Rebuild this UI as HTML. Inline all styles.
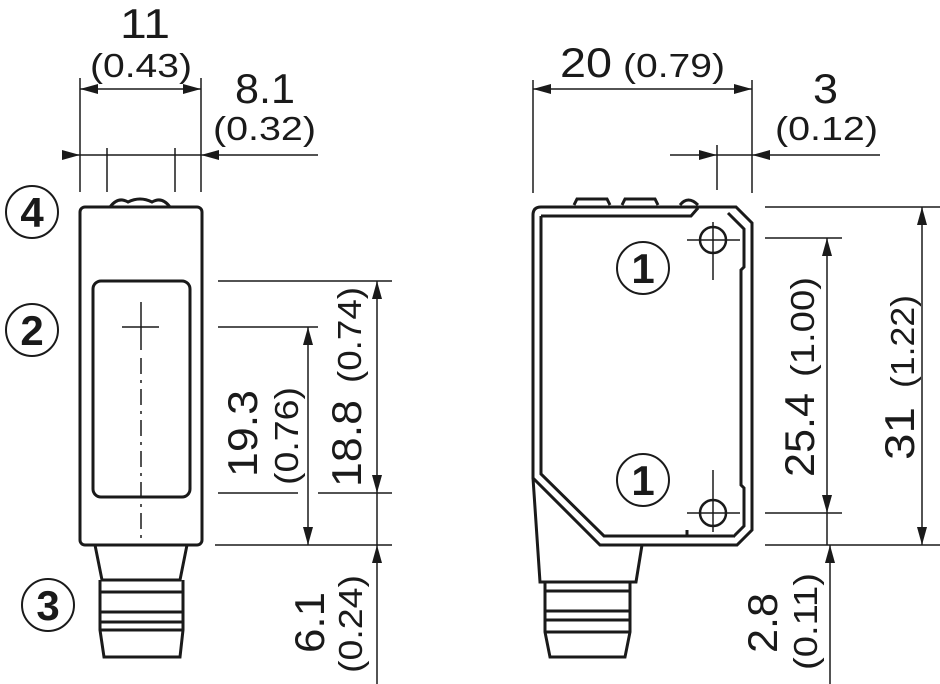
<!DOCTYPE html>
<html><head><meta charset="utf-8"><style>
html,body{margin:0;padding:0;background:#fff}
svg{display:block}
text{font-family:"Liberation Sans",sans-serif;fill:#1a1a1a}
.b{font-size:42px}.s{font-size:33px}
.c{font-weight:bold}
</style></head><body>
<svg width="940" height="684" viewBox="0 0 940 684" xmlns="http://www.w3.org/2000/svg">
<defs>
<marker id="a" markerWidth="18" markerHeight="10" refX="18" refY="5" orient="auto-start-reverse" markerUnits="userSpaceOnUse"><path d="M0,0 L18,5 L0,10z" fill="#1a1a1a"/></marker>
</defs>
<g stroke="#1a1a1a" fill="none">
<!-- LEFT VIEW -->
<g stroke-width="1.5">
<line x1="80" y1="78" x2="80" y2="192"/><line x1="201" y1="78" x2="201" y2="192"/>
<line x1="107" y1="148" x2="107" y2="192"/><line x1="175" y1="148" x2="175" y2="192"/>
<line x1="80" y1="89" x2="201" y2="89" marker-end="url(#a)" marker-start="url(#a)"/>
<line x1="62" y1="155" x2="80" y2="155" marker-end="url(#a)"/><line x1="80" y1="155" x2="201" y2="155"/>
<line x1="318" y1="155" x2="201" y2="155" marker-end="url(#a)"/>
<line x1="218" y1="281" x2="392" y2="281"/><line x1="218" y1="327" x2="318" y2="327"/>
<line x1="218" y1="493" x2="298" y2="493"/><line x1="318" y1="493" x2="392" y2="493"/>
<line x1="215" y1="545" x2="392" y2="545"/>
<line x1="308" y1="327" x2="308" y2="545" marker-start="url(#a)" marker-end="url(#a)"/>
<line x1="377" y1="281" x2="377" y2="493" marker-start="url(#a)" marker-end="url(#a)"/>
<line x1="377" y1="493" x2="377" y2="545"/>
<line x1="377" y1="684" x2="377" y2="545" marker-end="url(#a)"/>
<line x1="141" y1="302" x2="141" y2="350"/><line x1="122" y1="327" x2="159" y2="327"/>
<line x1="141" y1="358" x2="141" y2="540" stroke-dasharray="16,6,3,6"/>
</g>
<g stroke-width="3">
<path d="M110,207 Q118,196 128,202 Q140,196 152,202 Q162,196 170,207"/>
<rect x="80" y="207" width="122" height="338" rx="5"/>
<rect x="93" y="281" width="97" height="216" rx="8"/>
<path d="M95,545 L102,580 L180,580 L187,545"/>
<path d="M100,580 L100,622 L183,622 L183,580"/>
<line x1="100" y1="592" x2="183" y2="592"/><line x1="100" y1="612" x2="183" y2="612"/>
<path d="M100,622 L100,630 L104,657 L180,657 L183,630 L183,622"/>
<line x1="100" y1="630" x2="183" y2="630"/>
</g>
<g stroke-width="2"><circle cx="32" cy="212" r="26"/><circle cx="32" cy="330" r="26"/><circle cx="48" cy="605" r="26"/></g>
<!-- RIGHT VIEW -->
<g stroke-width="1.5">
<line x1="533" y1="80" x2="533" y2="193"/><line x1="752" y1="80" x2="752" y2="193"/>
<line x1="717" y1="145" x2="717" y2="190"/>
<line x1="533" y1="89" x2="752" y2="89" marker-start="url(#a)" marker-end="url(#a)"/>
<line x1="670" y1="155" x2="717" y2="155" marker-end="url(#a)"/><line x1="717" y1="155" x2="752" y2="155"/>
<line x1="880" y1="155" x2="752" y2="155" marker-end="url(#a)"/>
<line x1="765" y1="207" x2="940" y2="207"/><line x1="765" y1="238" x2="842" y2="238"/>
<line x1="765" y1="513" x2="842" y2="513"/><line x1="765" y1="545" x2="940" y2="545"/>
<line x1="827" y1="238" x2="827" y2="513" marker-start="url(#a)" marker-end="url(#a)"/>
<line x1="827" y1="513" x2="827" y2="545"/>
<line x1="922" y1="207" x2="922" y2="545" marker-start="url(#a)" marker-end="url(#a)"/>
<line x1="830" y1="684" x2="830" y2="545" marker-end="url(#a)"/>
<line x1="687" y1="240" x2="740" y2="240"/><line x1="713" y1="222" x2="713" y2="280"/>
<line x1="687" y1="513" x2="740" y2="513"/><line x1="713" y1="470" x2="713" y2="532"/>
</g>
<g stroke-width="3">
<path d="M574,205 l3,-6 h30 l3,6 M622,205 l3,-6 h30 l3,6 M680,205 q8,-10 18,0"/>
<path d="M541,207 L736,207 L752,223 L752,530 L737,545 L600,545 L533,478 L533,215 Q533,207 541,207Z"/>
<path d="M541,216 L691,216 L698,208 M541,216 L541,474 L604,536 L733,536 M728,213 L744,229 L744,267 L741,270 L741,485 L744,488 L744,526 L733,537 M687,530 L687,537"/>
<path d="M533,478 L540,582 L636,582 L642,545"/>
<path d="M545,582 L545,620 L630,620 L630,582"/>
<line x1="545" y1="591" x2="630" y2="591"/><line x1="545" y1="611" x2="630" y2="611"/>
<path d="M545,620 L545,632 L550,657 L625,657 L630,632 L630,620"/><line x1="545" y1="632" x2="630" y2="632"/>
</g>
<g stroke-width="2.5"><circle cx="713" cy="240" r="13"/><circle cx="713" cy="513" r="13"/></g>
<g stroke-width="2"><circle cx="643" cy="268" r="26"/><circle cx="643" cy="480" r="26"/></g>
</g>
<g class="c" text-anchor="middle">
<text x="32" y="227" font-size="42">4</text><text x="32" y="345" font-size="42">2</text><text x="48" y="620" font-size="42">3</text>
<text x="643" y="283" font-size="42">1</text><text x="643" y="495" font-size="42">1</text>
</g>
<g>
<text class="b" x="120" y="38" textLength="50" lengthAdjust="spacingAndGlyphs">11</text>
<text class="s" x="90" y="77" textLength="102" lengthAdjust="spacingAndGlyphs">(0.43)</text>
<text class="b" x="235" y="103" textLength="60" lengthAdjust="spacingAndGlyphs">8.1</text>
<text class="s" x="213" y="140" textLength="103" lengthAdjust="spacingAndGlyphs">(0.32)</text>
<text class="b" x="560" y="77" textLength="52" lengthAdjust="spacingAndGlyphs">20</text>
<text class="s" x="623" y="77" textLength="102" lengthAdjust="spacingAndGlyphs">(0.79)</text>
<text class="b" x="813" y="103" textLength="25" lengthAdjust="spacingAndGlyphs">3</text>
<text class="s" x="775" y="140" textLength="103" lengthAdjust="spacingAndGlyphs">(0.12)</text>
<text class="b" transform="translate(257,477) rotate(-90)" textLength="87" lengthAdjust="spacingAndGlyphs">19.3</text>
<text class="s" transform="translate(298,485) rotate(-90)" textLength="98" lengthAdjust="spacingAndGlyphs">(0.76)</text>
<text class="b" transform="translate(361,487) rotate(-90)" textLength="87" lengthAdjust="spacingAndGlyphs">18.8</text>
<text class="s" transform="translate(361,383) rotate(-90)" textLength="96" lengthAdjust="spacingAndGlyphs">(0.74)</text>
<text class="b" transform="translate(324,653) rotate(-90)" textLength="61" lengthAdjust="spacingAndGlyphs">6.1</text>
<text class="s" transform="translate(362,673) rotate(-90)" textLength="98" lengthAdjust="spacingAndGlyphs">(0.24)</text>
<text class="b" transform="translate(814,477) rotate(-90)" textLength="84" lengthAdjust="spacingAndGlyphs">25.4</text>
<text class="s" transform="translate(814,377) rotate(-90)" textLength="100" lengthAdjust="spacingAndGlyphs">(1.00)</text>
<text class="b" transform="translate(914,460) rotate(-90)" textLength="53" lengthAdjust="spacingAndGlyphs">31</text>
<text class="s" transform="translate(914,388) rotate(-90)" textLength="93" lengthAdjust="spacingAndGlyphs">(1.22)</text>
<text class="b" transform="translate(777,653) rotate(-90)" textLength="60" lengthAdjust="spacingAndGlyphs">2.8</text>
<text class="s" transform="translate(817,670) rotate(-90)" textLength="97" lengthAdjust="spacingAndGlyphs">(0.11)</text>
</g>
</svg>
</body></html>
